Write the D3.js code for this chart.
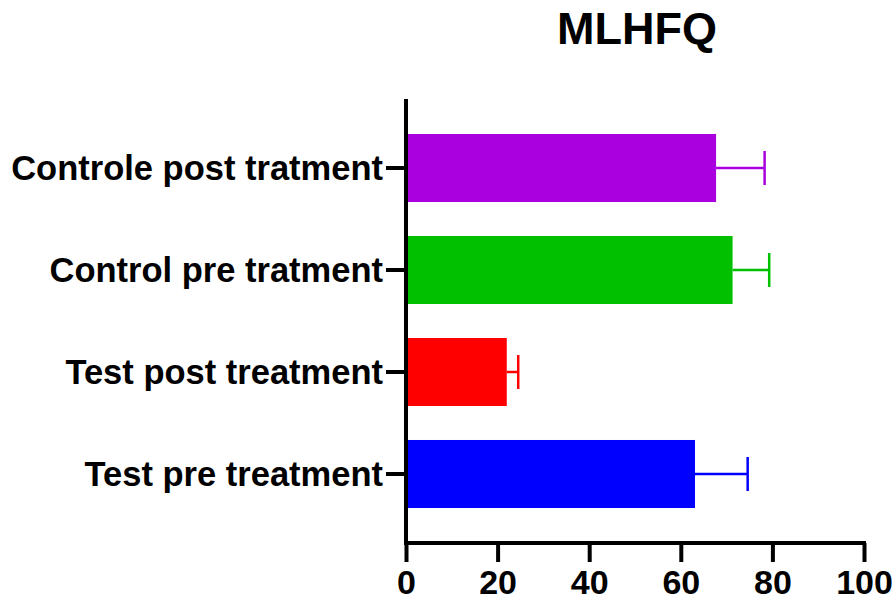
<!DOCTYPE html>
<html>
<head>
<meta charset="utf-8">
<script src="https://cdn.jsdelivr.net/npm/d3@7"></script>
<style>
  body { margin: 0; background: #fff; }
  text { font-family: "Liberation Sans", Arial, sans-serif; font-weight: bold; }
</style>
</head>
<body>
<svg width="895" height="601"></svg>
<script>
// Categories, top to bottom.
var categories = ["Controle post tratment", "Control pre tratment", "Test post treatment", "Test pre treatment"];
// Mean values and upper error (SD) for each group.
var means = [67.7, 71.3, 22.0, 63.1];
var errors = [10.6, 8.0, 2.5, 11.5];
var colors = ["#aa00e0", "#00c000", "#ff0000", "#0000ff"];
var xTicks = [0, 20, 40, 60, 80, 100];

var rows = categories.map(function(c, i) {
	return { name: c, mean: means[i], err: errors[i], color: colors[i] };
});

var svg = d3.select("svg");

// Plot area.
var x = d3.scaleLinear().domain([0, 100]).range([406, 864]);
var y = d3.scaleBand().domain(categories).range([99, 543]).paddingInner(0.333).paddingOuter(0.343);

// Bars.
svg.append("g")
	.selectAll("rect")
	.data(rows)
	.enter()
	.append("rect")
	.attr("x", x(0) + 2)
	.attr("y", function(d) { return y(d.name); })
	.attr("width", function(d) { return x(d.mean) - x(0) - 2; })
	.attr("height", y.bandwidth())
	.attr("fill", function(d) { return d.color; });

// Error bars (upper side only).
var err = svg.append("g").selectAll("g").data(rows).enter().append("g")
	.attr("stroke", function(d) { return d.color; })
	.attr("stroke-width", 2.5);
err.append("line")
	.attr("x1", function(d) { return x(d.mean); })
	.attr("x2", function(d) { return x(d.mean + d.err); })
	.attr("y1", function(d) { return y(d.name) + y.bandwidth() / 2; })
	.attr("y2", function(d) { return y(d.name) + y.bandwidth() / 2; });
err.append("line")
	.attr("x1", function(d) { return x(d.mean + d.err); })
	.attr("x2", function(d) { return x(d.mean + d.err); })
	.attr("y1", function(d) { return y(d.name) + y.bandwidth() / 2 - 17; })
	.attr("y2", function(d) { return y(d.name) + y.bandwidth() / 2 + 17; });

// X axis.
var xAxis = svg.append("g")
	.attr("transform", "translate(0,543)")
	.call(d3.axisBottom(x).tickValues(xTicks).tickSizeInner(19).tickSizeOuter(0).tickPadding(8));

// Y axis.
var yAxis = svg.append("g")
	.attr("transform", "translate(406,0)")
	.call(d3.axisLeft(y).tickSizeInner(20).tickSizeOuter(0).tickPadding(3));

[xAxis, yAxis].forEach(function(a) {
	a.select(".domain").attr("stroke", "#000").attr("stroke-width", 4);
	a.selectAll(".tick line").attr("stroke", "#000").attr("stroke-width", 4);
	a.selectAll("text").attr("fill", "#000")
		.style("font-family", "'Liberation Sans', Arial, sans-serif");
});
xAxis.selectAll("text").attr("font-size", 34);
yAxis.selectAll("text").attr("font-size", 34.5).attr("dy", "0.36em");
// Extend domain lines so the corner closes cleanly.
xAxis.select(".domain").attr("d", "M404,0H866");
yAxis.select(".domain").attr("d", "M0,99V545");

// Title.
svg.append("text")
	.attr("x", 637)
	.attr("y", 44)
	.attr("text-anchor", "middle")
	.attr("font-size", 45)
	.text("MLHFQ");
</script>
</body>
</html>
